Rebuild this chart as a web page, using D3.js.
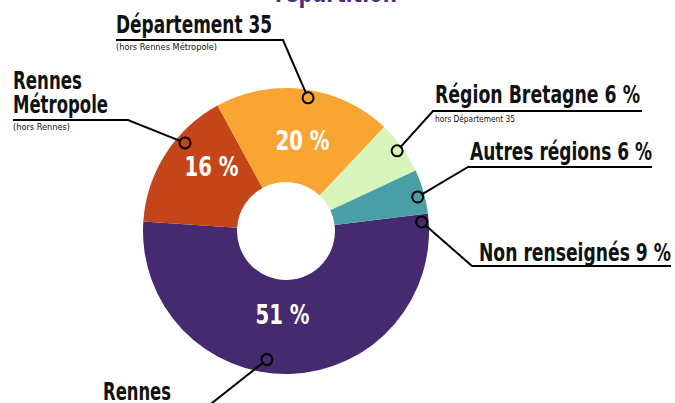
<!DOCTYPE html>
<html>
<head>
<meta charset="utf-8">
<script src="https://cdn.jsdelivr.net/npm/d3@7"></script>
<style>
  body { margin: 0; background: #fff; }
  text { font-family: "Liberation Sans Narrow", "DejaVu Sans Condensed", sans-serif; }
</style>
</head>
<body>
<div id="chart"></div>
<script>
// slices, in drawing order (clockwise, starting just below 3 o'clock)
const categories = ["Rennes", "Rennes Métropole", "Département 35", "Région Bretagne", "Autres régions"];
const sliceValues = [53, 16, 20, 6, 5];          // slice sizes
const pctLabels = ["51 %", "16 %", "20 %", "", ""]; // values printed inside slices
const colors = ["#452a6f", "#c44519", "#f9a533", "#d8f6bb", "#4a9fa6"];
const extraLabel = "Non renseignés 9 %";

let width = 675, height = 403;
let cx = 286, cy = 231, outerR = 143, innerR = 49;

let svg = d3.select("#chart").append("svg")
    .attr("width", width)
    .attr("height", height);

// title, mostly cut off at the top
svg.append("text")
    .text("répartition")
    .attr("x", 275)
    .attr("y", 2)
    .attr("textLength", 122)
    .attr("lengthAdjust", "spacingAndGlyphs")
    .attr("font-size", 30)
    .attr("font-weight", "bold")
    .attr("fill", "#4b2c80");

let g = svg.append("g")
    .attr("transform", `translate(${cx}, ${cy})`);

let deg = Math.PI / 180;

let pie = d3.pie()
    .sort(null)
    .startAngle(83 * deg)
    .endAngle(443 * deg);

let arcs = pie(sliceValues);

let arc = d3.arc()
    .innerRadius(innerR)
    .outerRadius(outerR);

g.selectAll(".slice")
    .data(arcs)
    .join("path")
    .attr("class", "slice")
    .attr("d", arc)
    .attr("fill", (d, i) => colors[i]);

// percent labels inside slices (angle nudge in degrees, radius)
let pctPos = [{da: 4, r: 84}, {da: 8, r: 98}, {da: 3, r: 92}, {da: 0, r: 0}, {da: 0, r: 0}];

g.selectAll(".pct")
    .data(arcs)
    .join("text")
    .attr("class", "pct")
    .text((d, i) => pctLabels[i])
    .attr("transform", (d, i) => {
        let mid = (d.startAngle + d.endAngle) / 2 + pctPos[i].da * deg;
        let p = d3.pointRadial(mid, pctPos[i].r);
        return `translate(${p[0]}, ${p[1] + 9})`;
    })
    .attr("text-anchor", "middle")
    .attr("textLength", 54)
    .attr("lengthAdjust", "spacingAndGlyphs")
    .attr("font-size", 26)
    .attr("font-weight", "bold")
    .attr("fill", "#fff");

// callouts: dot anchor on the slice, then elbow line to an underlined label
let callouts = [
    {slice: 0, da: 10, r: 130, elbow: [212, 403], end: [190, 420],
     lines: [{t: "Rennes", x: 103, y: 400, w: 68, s: 24}]},
    {slice: 1, da: 8.5, r: 134, elbow: [128, 120], end: [13, 120],
     lines: [{t: "Rennes", x: 13, y: 89, w: 69, s: 24},
             {t: "Métropole", x: 13, y: 113, w: 95, s: 24},
             {t: "(hors Rennes)", x: 13, y: 130, w: 57, s: 9.5}]},
    {slice: 2, da: 2, r: 135, elbow: [283, 40], end: [116, 40],
     lines: [{t: "Département 35", x: 116, y: 33, w: 156, s: 24},
             {t: "(hors Rennes Métropole)", x: 116, y: 50, w: 101, s: 9.5}]},
    {slice: 3, da: 0, r: 137, elbow: [433, 111], end: [642, 111],
     lines: [{t: "Région Bretagne 6 %", x: 435, y: 103, w: 205, s: 24},
             {t: "hors Département 35", x: 435, y: 122, w: 80, s: 9.5}]},
    {slice: 4, da: 1.5, r: 136, elbow: [468, 167], end: [652, 167],
     lines: [{t: "Autres régions 6 %", x: 470, y: 160, w: 182, s: 24}]}
];

// "Non renseignés" has no slice of its own: its dot sits at the start of the Rennes slice
let nrAngle = arcs[0].startAngle + 3.2 * deg;
let nrDot = d3.pointRadial(nrAngle, 136);

let calloutData = callouts.map(c => {
    let d = arcs[c.slice];
    let a = (d.startAngle + d.endAngle) / 2 + c.da * deg;
    let p = d3.pointRadial(a, c.r);
    return {dot: [p[0] + cx, p[1] + cy], elbow: c.elbow, end: c.end, lines: c.lines};
});
calloutData.push({
    dot: [nrDot[0] + cx, nrDot[1] + cy], elbow: [472, 266], end: [671, 266],
    lines: [{t: extraLabel, x: 479, y: 261, w: 192, s: 24}]
});

let line = d3.line();

svg.selectAll(".leader")
    .data(calloutData)
    .join("path")
    .attr("class", "leader")
    .attr("d", d => line([d.dot, d.elbow, d.end]))
    .attr("fill", "none")
    .attr("stroke", "#000")
    .attr("stroke-width", 2);

svg.selectAll(".dot")
    .data(calloutData)
    .join("circle")
    .attr("class", "dot")
    .attr("cx", d => d.dot[0])
    .attr("cy", d => d.dot[1])
    .attr("r", 5.5)
    .attr("fill", "none")
    .attr("stroke", "#000")
    .attr("stroke-width", 2);

// cover the leader line inside each dot
svg.selectAll(".dotFill")
    .data(calloutData)
    .join("circle")
    .attr("class", "dotFill")
    .attr("cx", d => d.dot[0])
    .attr("cy", d => d.dot[1])
    .attr("r", 4.5)
    .attr("fill", (d, i) => i < 5 ? colors[callouts[i].slice] : colors[0]);

svg.selectAll(".dot").raise();

let labelLines = calloutData.flatMap(d => d.lines);

svg.selectAll(".lbl")
    .data(labelLines)
    .join("text")
    .attr("class", "lbl")
    .text(d => d.t)
    .attr("x", d => d.x)
    .attr("y", d => d.y)
    .attr("textLength", d => d.w)
    .attr("lengthAdjust", "spacingAndGlyphs")
    .attr("font-size", d => d.s)
    .attr("font-weight", d => d.s > 12 ? "bold" : "normal")
    .attr("fill", "#111");
</script>
</body>
</html>
